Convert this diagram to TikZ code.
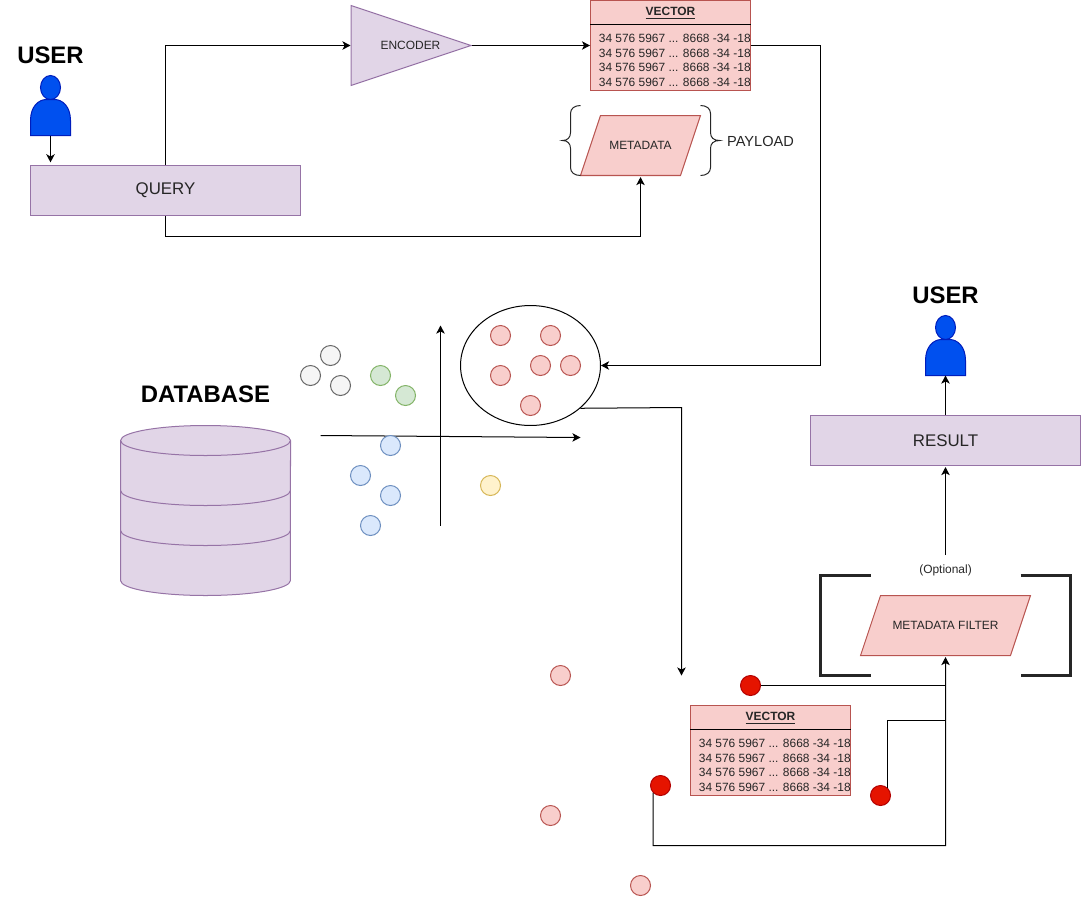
\documentclass[tikz,border=0pt]{standalone}
\usepackage{fontspec}
\setmainfont{Liberation Sans}
\usetikzlibrary{arrows.meta,shapes.geometric}
\definecolor{lilacfill}{HTML}{E1D5E7}
\definecolor{lilacline}{HTML}{9673A6}
\definecolor{rosefill}{HTML}{F8CECC}
\definecolor{roseline}{HTML}{B85450}
\definecolor{greyfill}{HTML}{F5F5F5}
\definecolor{greyline}{HTML}{666666}
\definecolor{greenfill}{HTML}{D5E8D4}
\definecolor{greenline}{HTML}{82B366}
\definecolor{bluefill}{HTML}{DAE8FC}
\definecolor{blueline}{HTML}{6C8EBF}
\definecolor{yellowfill}{HTML}{FFF2CC}
\definecolor{yellowline}{HTML}{D6B656}
\definecolor{hitfill}{HTML}{E51400}
\definecolor{hitline}{HTML}{B20000}
\definecolor{userfill}{HTML}{0050EF}
\definecolor{userline}{HTML}{001DBC}
\tikzset{
    small text/.style={font=\fontsize{6.8}{8}\selectfont, text=black!85},
    mid text/.style={font=\fontsize{8.3}{10}\selectfont, text=black!85},
    box text/.style={font=\fontsize{9.6}{11}\selectfont, text=black!85},
    big text/.style={font=\bfseries\fontsize{13.6}{16}\selectfont},
    conn/.style={line width=0.57pt},
    arr/.style={conn, -{Stealth[length=4.6pt,width=4.8pt,inset=1.2pt]}},
    lilacbox/.style={draw=lilacline, fill=lilacfill, line width=0.57pt, minimum width=5.4cm, minimum height=1cm, inner sep=0pt, box text},
    paral/.style={trapezium, trapezium left angle=71.565, trapezium right angle=108.435, draw=roseline, fill=rosefill, line width=0.57pt, text height=0.686cm, text depth=0.514cm, inner sep=0pt, small text},
    dot/.style={circle, minimum size=0.4cm, inner sep=0pt, line width=0.57pt},
    greydot/.style={dot, draw=greyline, fill=greyfill},
    greendot/.style={dot, draw=greenline, fill=greenfill},
    bluedot/.style={dot, draw=blueline, fill=bluefill},
    yellowdot/.style={dot, draw=yellowline, fill=yellowfill},
    rosedot/.style={dot, draw=roseline, fill=rosefill},
    hitdot/.style={dot, draw=hitline, fill=hitfill},
    userfig/.pic={
        \draw [line width=0.57pt, draw=userline, fill=userfill] (0,-48) ellipse (0.2cm and 0.24cm);
        \draw [line width=0.57pt, draw=userline, fill=userfill] (-20,0) -- (-20,-15) .. controls (-20,-29) and (-12,-36) .. (-4,-36) -- (4,-36) .. controls (12,-36) and (20,-29) .. (20,-15) -- (20,0) -- cycle;
        \coordinate (-foot) at (0,0);
    },
    vectorcard/.pic={
        \node [draw=roseline, fill=rosefill, line width=0.57pt, minimum width=3.2cm, minimum height=1.8cm, inner sep=0pt] (-box) at (0,0) {};
        \draw [conn] (-box.west |- 0,-21) -- (-box.east |- 0,-21);
        \node [small text, inner sep=0pt] (-head) at (0,-32.5) {\textbf{\underline{VECTOR}}};
        \node [small text, inner sep=0pt, anchor=west] (-rowa) at (-72,-7.5) {34 576 5967 ... 8668 -34 -18};
        \node [small text, inner sep=0pt, anchor=west] (-rowb) at (-72,7.5) {34 576 5967 ... 8668 -34 -18};
        \node [small text, inner sep=0pt, anchor=west] (-rowc) at (-72,21.5) {34 576 5967 ... 8668 -34 -18};
        \node [small text, inner sep=0pt, anchor=west] (-rowd) at (-72,36.5) {34 576 5967 ... 8668 -34 -18};
    }
}

\begin{document}
\begin{tikzpicture}[x=0.02cm,y=-0.02cm]
            \useasboundingbox (-0.5,-0.5) rectangle (1080.5,895.5);

            \node [big text] (userlabela) at (50,55) {USER};
            \pic (usera) at (50,135) {userfig};
            \node [lilacbox] (query) at (165,190) {QUERY};
            \node [isosceles triangle, isosceles triangle stretches=true, draw=lilacline, fill=lilacfill, line width=0.57pt, minimum width=1.6cm, minimum height=2.4cm, inner sep=0pt, anchor=lower side] (encoder) at (350,45) {};
            \node [small text, inner sep=0pt] (encodertext) at (410,45) {ENCODER};
            \pic (veca) at (670,45) {vectorcard};
            \node [paral] (metadata) at (640,145) {\makebox[1.6cm]{METADATA}};
            \node [mid text] (payload) at (760,141) {PAYLOAD};

            \draw [conn, black!85] (580,105) .. controls (574,105) and (570,108) .. (570,113) -- (570,132) .. controls (570,137) and (567,140) .. (562,140) .. controls (567,140) and (570,143) .. (570,148) -- (570,167) .. controls (570,172) and (574,175) .. (580,175);
            \draw [conn, black!85] (700,105) .. controls (706,105) and (710,108) .. (710,113) -- (710,132) .. controls (710,137) and (713,140) .. (719,140) .. controls (713,140) and (710,143) .. (710,148) -- (710,167) .. controls (710,172) and (706,175) .. (700,175);

            \draw [arr, shorten >=1.5pt] (usera-foot) -- (query.north -| usera-foot);
            \draw [arr] (query.north) |- (encoder.lower side);
            \draw [arr] (query.south) -- ++(0,20) -| ([yshift=-0.6pt]metadata.south);
            \draw [arr] (encoder.apex) -- (veca-box.west);

            \node [big text] (dblabel) at (205,394) {DATABASE};
            \draw [line width=0.57pt, draw=lilacline, fill=lilacfill] (120,440) -- (120,580) arc [start angle=180, end angle=360, x radius=1.7cm, y radius=0.3cm] -- (290,440) arc [start angle=0, end angle=180, x radius=1.7cm, y radius=0.3cm] -- cycle;
            \draw [line width=0.57pt, draw=lilacline] (120,440) arc [start angle=180, end angle=360, x radius=1.7cm, y radius=0.3cm];
            \draw [line width=0.57pt, draw=lilacline] (120,490) arc [start angle=180, end angle=360, x radius=1.7cm, y radius=0.3cm];
            \draw [line width=0.57pt, draw=lilacline] (120,530) arc [start angle=180, end angle=360, x radius=1.7cm, y radius=0.3cm];

            \coordinate (xfrom) at (320,435);
            \coordinate (xto) at (580,437);
            \coordinate (yfrom) at (440,525);
            \coordinate (yto) at (440,325);
            \draw [arr] (xfrom) -- (xto);
            \draw [arr] (yfrom) -- (yto);

            \node [draw, ellipse, line width=0.57pt, minimum width=2.8cm, minimum height=2.4cm, inner sep=0pt] (cluster) at (530,365) {};

            \node [greydot] (greya) at (330,355) {};
            \node [greydot] (greyb) at (310,375) {};
            \node [greydot] (greyc) at (340,385) {};
            \node [greendot] (greena) at (380,375) {};
            \node [greendot] (greenb) at (405,395) {};
            \node [bluedot] (bluea) at (390,445) {};
            \node [bluedot] (blueb) at (360,475) {};
            \node [bluedot] (bluec) at (390,495) {};
            \node [bluedot] (blued) at (370,525) {};
            \node [yellowdot] (yellowa) at (490,485) {};
            \node [rosedot] (rosea) at (500,335) {};
            \node [rosedot] (roseb) at (550,335) {};
            \node [rosedot] (rosec) at (540,365) {};
            \node [rosedot] (rosed) at (570,365) {};
            \node [rosedot] (rosee) at (500,375) {};
            \node [rosedot] (rosef) at (530,405) {};
            \node [rosedot] (roseg) at (560,675) {};
            \node [rosedot] (roseh) at (550,815) {};
            \node [rosedot] (rosei) at (640,885) {};

            \coordinate (hitsend) at (681,675);
            \draw [arr] (veca-box.east) -- (820,45) |- (cluster.east);
            \draw [arr] (cluster.south east) -- (681,407) -- (hitsend);

            \pic (vecb) at (770,750) {vectorcard};
            \node [hitdot] (hita) at (750,685) {};
            \node [hitdot] (hitb) at (660,785) {};
            \node [hitdot] (hitc) at (880,795) {};

            \node [paral] (filter) at (945,625) {\makebox[2.6cm]{METADATA FILTER}};
            \node [small text, minimum height=0.6cm, inner sep=0pt] (optional) at (945,570) {(Optional)};
            \draw [line width=1.3pt, black!85] (870,575) -- (820,575) -- (820,675) -- (870,675);
            \draw [line width=1.3pt, black!85] (1020,575) -- (1070,575) -- (1070,675) -- (1020,675);

            \node [lilacbox] (result) at (945,440) {RESULT};
            \pic (userb) at (945,375) {userfig};
            \node [big text] (userlabelb) at (945,295) {USER};

            \coordinate (busmid) at (945,720);
            \coordinate (busend) at (945,845);
            \draw [conn] (hita.east) -- (filter.south |- hita.east);
            \draw [conn] (hitc.north east) |- (busmid);
            \draw [arr] (hitb.south west) |- (busend) -- ([yshift=-0.6pt]filter.south);
            \draw [arr] (optional.north) -- ([yshift=-0.6pt]result.south);
            \draw [arr] (result.north) -- (userb-foot);
\end{tikzpicture}
\end{document}
